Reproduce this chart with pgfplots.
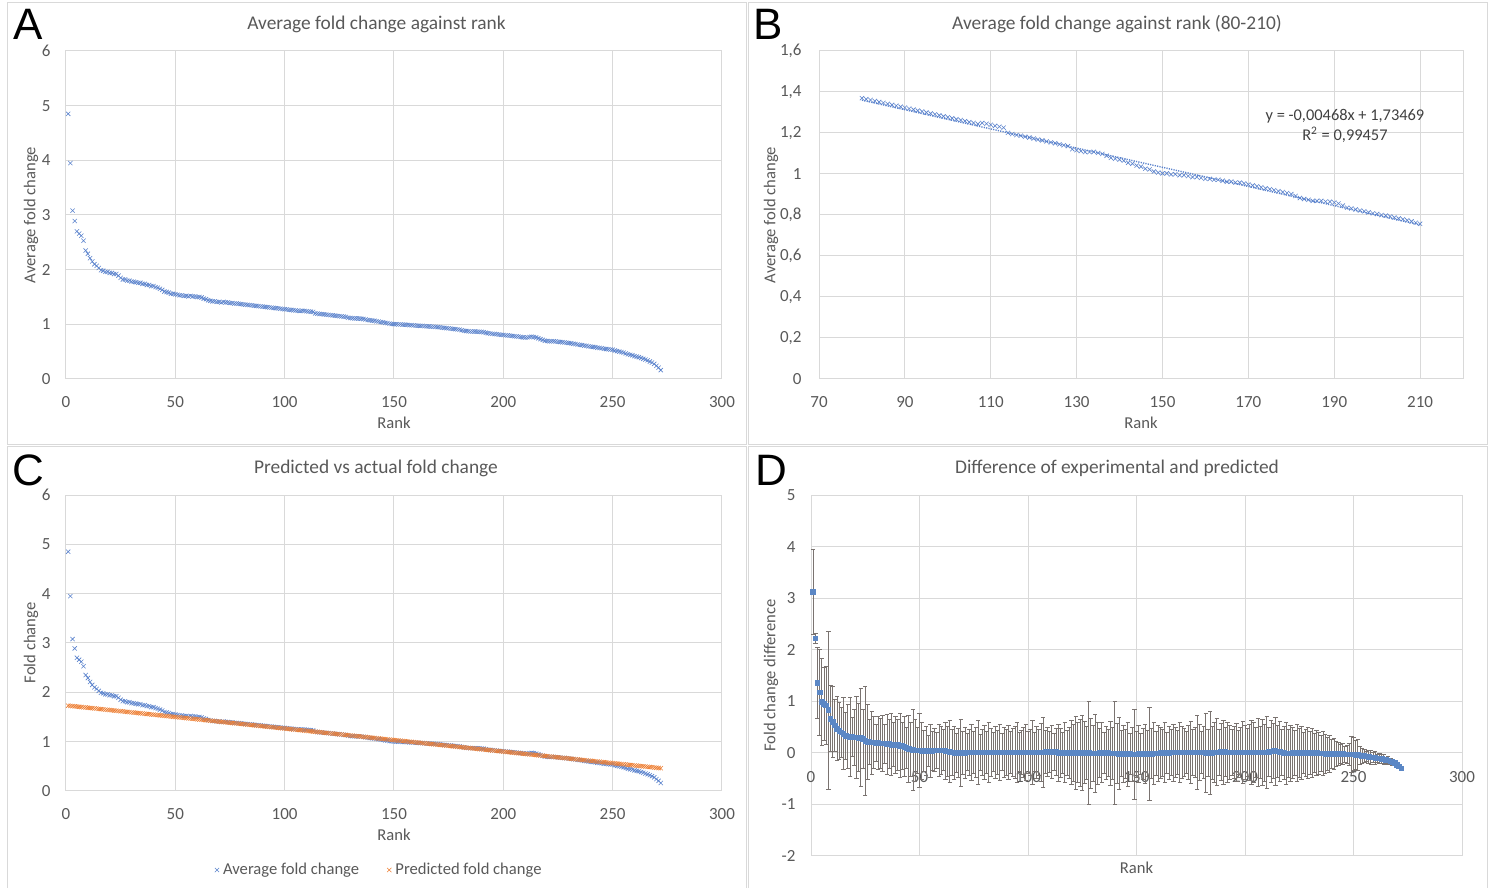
\documentclass[border=0pt]{standalone}
\usepackage{fontspec}
\setmainfont{Carlito}
\newfontfamily\letterfont{Liberation Sans}
\usepackage{pgfplots}
\pgfplotsset{compat=1.18}
\usepackage{pgfplotstable}

\definecolor{txt}{HTML}{595959}
\definecolor{gridc}{HTML}{D9D9D9}
\definecolor{xblue}{HTML}{5A82CC}
\definecolor{xorange}{HTML}{ED7D31}
\definecolor{dblue}{HTML}{5B87C5}
\definecolor{ebar}{HTML}{7A7370}

% rank, average fold change, predicted, difference, error
\pgfplotstableread[row sep=\\]{
r avg pred diff err\\
1 4.85 1.730 3.12 0.82\\
2 3.95 1.725 2.22 0.10\\
3 3.08 1.721 1.36 0.69\\
4 2.89 1.716 1.17 0.83\\
5 2.70 1.711 0.99 0.85\\
6 2.66 1.707 0.95 0.70\\
7 2.62 1.702 0.92 0.75\\
8 2.53 1.697 0.83 1.53\\
9 2.35 1.693 0.66 0.64\\
10 2.29 1.688 0.60 0.68\\
11 2.21 1.683 0.53 0.50\\
12 2.15 1.679 0.47 0.62\\
13 2.10 1.674 0.43 0.55\\
14 2.07 1.669 0.40 0.48\\
15 2.03 1.664 0.37 0.70\\
16 1.99 1.660 0.33 0.45\\
17 1.98 1.655 0.32 0.62\\
18 1.96 1.650 0.31 0.77\\
19 1.96 1.646 0.31 0.38\\
20 1.94 1.641 0.30 0.55\\
21 1.94 1.636 0.30 0.80\\
22 1.92 1.632 0.29 0.66\\
23 1.92 1.627 0.29 0.95\\
24 1.89 1.622 0.27 0.58\\
25 1.85 1.618 0.23 1.05\\
26 1.82 1.613 0.21 0.72\\
27 1.82 1.608 0.21 0.43\\
28 1.80 1.604 0.20 0.61\\
29 1.80 1.599 0.20 0.50\\
30 1.78 1.594 0.19 0.36\\
31 1.78 1.590 0.19 0.52\\
32 1.77 1.585 0.18 0.48\\
33 1.76 1.580 0.18 0.55\\
34 1.76 1.576 0.18 0.38\\
35 1.74 1.571 0.17 0.58\\
36 1.74 1.566 0.17 0.47\\
37 1.72 1.562 0.16 0.60\\
38 1.72 1.557 0.16 0.42\\
39 1.70 1.552 0.15 0.55\\
40 1.70 1.548 0.15 0.50\\
41 1.68 1.543 0.14 0.62\\
42 1.67 1.538 0.13 0.45\\
43 1.65 1.533 0.12 0.58\\
44 1.63 1.529 0.10 0.40\\
45 1.60 1.524 0.08 0.65\\
46 1.59 1.519 0.07 0.52\\
47 1.58 1.515 0.06 0.78\\
48 1.56 1.510 0.05 0.60\\
49 1.56 1.505 0.05 0.45\\
50 1.55 1.501 0.05 0.72\\
51 1.54 1.496 0.04 0.55\\
52 1.53 1.491 0.04 0.40\\
53 1.53 1.487 0.04 0.48\\
54 1.52 1.482 0.04 0.30\\
55 1.52 1.477 0.04 0.52\\
56 1.51 1.473 0.04 0.38\\
57 1.52 1.468 0.05 0.42\\
58 1.51 1.463 0.05 0.35\\
59 1.51 1.459 0.05 0.50\\
60 1.50 1.454 0.05 0.46\\
61 1.50 1.449 0.05 0.40\\
62 1.49 1.445 0.04 0.55\\
63 1.47 1.440 0.03 0.48\\
64 1.46 1.435 0.02 0.60\\
65 1.44 1.431 0.01 0.44\\
66 1.43 1.426 0.00 0.52\\
67 1.42 1.421 0.00 0.38\\
68 1.42 1.417 0.00 0.47\\
69 1.41 1.412 0.00 0.65\\
70 1.41 1.407 0.00 0.42\\
71 1.40 1.402 0.00 0.50\\
72 1.41 1.398 0.01 0.36\\
73 1.40 1.393 0.01 0.44\\
74 1.40 1.388 0.01 0.55\\
75 1.39 1.384 0.01 0.40\\
76 1.39 1.379 0.01 0.48\\
77 1.38 1.374 0.01 0.62\\
78 1.38 1.370 0.01 0.35\\
79 1.375 1.365 0.01 0.45\\
80 1.370 1.360 0.01 0.52\\
81 1.365 1.355 0.01 0.40\\
82 1.361 1.351 0.01 0.58\\
83 1.356 1.346 0.01 0.46\\
84 1.351 1.341 0.01 0.38\\
85 1.347 1.337 0.01 0.50\\
86 1.342 1.332 0.01 0.42\\
87 1.337 1.327 0.01 0.55\\
88 1.333 1.323 0.01 0.36\\
89 1.328 1.318 0.01 0.48\\
90 1.324 1.314 0.01 0.44\\
91 1.319 1.309 0.01 0.52\\
92 1.314 1.304 0.01 0.40\\
93 1.309 1.299 0.01 0.46\\
94 1.305 1.295 0.01 0.50\\
95 1.300 1.290 0.01 0.58\\
96 1.295 1.285 0.01 0.38\\
97 1.291 1.281 0.01 0.42\\
98 1.286 1.276 0.01 0.48\\
99 1.281 1.271 0.01 0.55\\
100 1.277 1.267 0.01 0.40\\
101 1.272 1.262 0.01 0.45\\
102 1.267 1.257 0.01 0.62\\
103 1.263 1.253 0.01 0.38\\
104 1.258 1.248 0.01 0.50\\
105 1.253 1.243 0.01 0.44\\
106 1.249 1.239 0.01 0.56\\
107 1.244 1.234 0.01 0.68\\
108 1.249 1.229 0.02 0.42\\
109 1.245 1.225 0.02 0.48\\
110 1.240 1.220 0.02 0.40\\
111 1.235 1.215 0.02 0.52\\
112 1.231 1.211 0.02 0.36\\
113 1.226 1.206 0.02 0.45\\
114 1.201 1.201 0.00 0.55\\
115 1.195 1.197 0.00 0.48\\
116 1.190 1.192 0.00 0.40\\
117 1.187 1.187 0.00 0.58\\
118 1.182 1.182 0.00 0.44\\
119 1.178 1.178 0.00 0.50\\
120 1.173 1.173 0.00 0.62\\
121 1.168 1.168 0.00 0.55\\
122 1.164 1.164 0.00 0.70\\
123 1.159 1.159 0.00 0.58\\
124 1.154 1.154 0.00 0.65\\
125 1.150 1.150 0.00 0.72\\
126 1.145 1.145 0.00 0.60\\
127 1.140 1.140 0.00 0.52\\
128 1.136 1.136 0.00 1.00\\
129 1.121 1.131 -0.01 0.68\\
130 1.116 1.126 -0.01 0.55\\
131 1.112 1.122 -0.01 0.75\\
132 1.107 1.117 -0.01 0.60\\
133 1.107 1.112 -0.005 0.48\\
134 1.108 1.108 0.00 0.58\\
135 1.103 1.103 0.00 0.40\\
136 1.098 1.098 0.00 0.52\\
137 1.089 1.094 -0.005 0.45\\
138 1.079 1.089 -0.01 0.62\\
139 1.074 1.084 -0.01 0.50\\
140 1.070 1.080 -0.01 1.00\\
141 1.065 1.075 -0.01 0.58\\
142 1.055 1.070 -0.015 0.70\\
143 1.050 1.065 -0.015 0.45\\
144 1.041 1.061 -0.02 0.55\\
145 1.036 1.056 -0.02 0.48\\
146 1.026 1.051 -0.025 0.62\\
147 1.022 1.047 -0.025 0.40\\
148 1.012 1.042 -0.03 0.52\\
149 1.007 1.037 -0.03 0.88\\
150 1.003 1.033 -0.03 0.45\\
151 1.003 1.028 -0.025 0.55\\
152 0.998 1.023 -0.025 0.40\\
153 0.999 1.019 -0.02 0.50\\
154 0.994 1.014 -0.02 0.58\\
155 0.994 1.009 -0.015 0.44\\
156 0.990 1.005 -0.015 0.90\\
157 0.985 1.000 -0.015 0.48\\
158 0.985 0.995 -0.01 0.60\\
159 0.981 0.991 -0.01 0.42\\
160 0.976 0.986 -0.01 0.55\\
161 0.976 0.981 -0.005 0.50\\
162 0.972 0.977 -0.005 0.46\\
163 0.972 0.972 0.00 0.58\\
164 0.967 0.967 0.00 0.40\\
165 0.962 0.962 0.00 0.52\\
166 0.963 0.958 0.005 0.45\\
167 0.958 0.953 0.005 0.55\\
168 0.958 0.948 0.01 0.48\\
169 0.954 0.944 0.01 0.42\\
170 0.949 0.939 0.01 0.58\\
171 0.944 0.934 0.01 0.50\\
172 0.940 0.930 0.01 0.46\\
173 0.935 0.925 0.01 0.40\\
174 0.930 0.920 0.01 0.52\\
175 0.926 0.916 0.01 0.60\\
176 0.921 0.911 0.01 0.44\\
177 0.916 0.906 0.01 0.48\\
178 0.912 0.902 0.01 0.72\\
179 0.907 0.897 0.01 0.55\\
180 0.902 0.892 0.01 0.40\\
181 0.893 0.888 0.005 0.50\\
182 0.883 0.883 0.00 0.76\\
183 0.878 0.878 0.00 0.45\\
184 0.874 0.874 0.00 0.80\\
185 0.869 0.869 0.00 0.52\\
186 0.869 0.864 0.005 0.58\\
187 0.869 0.859 0.01 0.65\\
188 0.865 0.855 0.01 0.44\\
189 0.865 0.850 0.015 0.55\\
190 0.861 0.846 0.015 0.62\\
191 0.856 0.841 0.015 0.48\\
192 0.846 0.836 0.01 0.58\\
193 0.836 0.831 0.005 0.52\\
194 0.832 0.827 0.005 0.45\\
195 0.827 0.822 0.005 0.50\\
196 0.822 0.817 0.005 0.56\\
197 0.818 0.813 0.005 0.42\\
198 0.813 0.808 0.005 0.48\\
199 0.808 0.803 0.005 0.60\\
200 0.805 0.799 0.006 0.52\\
201 0.800 0.794 0.006 0.46\\
202 0.797 0.789 0.008 0.55\\
203 0.793 0.785 0.008 0.62\\
204 0.788 0.780 0.008 0.58\\
205 0.783 0.775 0.008 0.48\\
206 0.779 0.771 0.008 0.66\\
207 0.774 0.766 0.008 0.50\\
208 0.769 0.761 0.008 0.64\\
209 0.762 0.757 0.005 0.55\\
210 0.757 0.752 0.005 0.70\\
211 0.762 0.747 0.015 0.48\\
212 0.768 0.743 0.025 0.60\\
213 0.773 0.738 0.035 0.54\\
214 0.768 0.733 0.035 0.66\\
215 0.759 0.729 0.03 0.50\\
216 0.744 0.724 0.02 0.58\\
217 0.729 0.719 0.01 0.45\\
218 0.715 0.715 0.00 0.52\\
219 0.700 0.710 -0.01 0.60\\
220 0.695 0.705 -0.01 0.46\\
221 0.690 0.700 -0.01 0.55\\
222 0.691 0.696 -0.005 0.50\\
223 0.691 0.691 0.00 0.44\\
224 0.686 0.686 0.00 0.56\\
225 0.682 0.682 0.00 0.48\\
226 0.677 0.677 0.00 0.52\\
227 0.672 0.672 0.00 0.40\\
228 0.668 0.668 0.00 0.46\\
229 0.663 0.663 0.00 0.50\\
230 0.658 0.658 0.00 0.42\\
231 0.654 0.654 0.00 0.48\\
232 0.644 0.649 -0.005 0.38\\
233 0.639 0.644 -0.005 0.44\\
234 0.630 0.640 -0.01 0.40\\
235 0.625 0.635 -0.01 0.35\\
236 0.620 0.630 -0.01 0.42\\
237 0.611 0.626 -0.015 0.38\\
238 0.606 0.621 -0.015 0.32\\
239 0.596 0.616 -0.02 0.36\\
240 0.592 0.612 -0.02 0.28\\
241 0.587 0.607 -0.02 0.30\\
242 0.582 0.602 -0.02 0.25\\
243 0.572 0.597 -0.025 0.22\\
244 0.568 0.593 -0.025 0.18\\
245 0.563 0.588 -0.025 0.20\\
246 0.553 0.583 -0.03 0.15\\
247 0.549 0.579 -0.03 0.18\\
248 0.544 0.574 -0.03 0.22\\
249 0.539 0.569 -0.03 0.35\\
250 0.535 0.565 -0.03 0.32\\
251 0.520 0.560 -0.04 0.28\\
252 0.510 0.555 -0.045 0.30\\
253 0.501 0.551 -0.05 0.18\\
254 0.491 0.546 -0.055 0.15\\
255 0.481 0.541 -0.06 0.12\\
256 0.467 0.537 -0.07 0.10\\
257 0.452 0.532 -0.08 0.12\\
258 0.442 0.527 -0.085 0.14\\
259 0.433 0.523 -0.09 0.10\\
260 0.418 0.518 -0.10 0.12\\
261 0.408 0.513 -0.105 0.08\\
262 0.399 0.509 -0.11 0.10\\
263 0.384 0.504 -0.12 0.08\\
264 0.369 0.499 -0.13 0.10\\
265 0.355 0.495 -0.14 0.06\\
266 0.340 0.490 -0.15 0.08\\
267 0.320 0.485 -0.165 0.05\\
268 0.301 0.481 -0.18 0.06\\
269 0.276 0.476 -0.20 0.04\\
270 0.241 0.471 -0.23 0.05\\
271 0.206 0.466 -0.26 0.03\\
272 0.162 0.462 -0.30 0.02\\
}\data

\pgfplotsset{
  panel/.style={
    scale only axis, anchor=south west, clip=false,
    grid=major, grid style={gridc, line width=0.5pt},
    axis line style={gridc, line width=0.5pt},
    major tick length=0pt,
    tick label style={font=\fontsize{8.5}{10}\selectfont, text=txt},
    label style={font=\fontsize{8.3}{10}\selectfont, text=txt},
    /pgf/number format/assume math mode=true,
    xticklabel style={yshift=-5pt},
    yticklabel style={xshift=-4.2pt},
    xlabel style={at={([yshift=-22pt]axis description cs:0.5,0)}, anchor=center},
    ylabel style={at={([xshift=-17.5pt]axis description cs:0,0.5)}, anchor=center, rotate=0},
  },
  xmk/.style={only marks, mark=x, mark size=1.5pt, line width=0.3pt},
}

\begin{document}
\begin{tikzpicture}
\path[use as bounding box] (0,0) rectangle (747.5pt,444pt);
% panel frames
\draw[gridc, line width=0.5pt] (3.5pt,221.5pt) rectangle (373pt,442.5pt);
\draw[gridc, line width=0.5pt] (374pt,221.5pt) rectangle (743.5pt,442.5pt);
\draw[gridc, line width=0.5pt] (3.5pt,-1pt) rectangle (373pt,220.5pt);
\draw[gridc, line width=0.5pt] (374pt,-1pt) rectangle (743.5pt,220.5pt);

% A
\begin{axis}[panel, at={(33pt,254.5pt)}, width=328pt, height=164pt,
  xmin=0, xmax=300, ymin=0, ymax=6, xtick={0,50,...,300}, ytick={0,1,...,6},
  xlabel={Rank}, ylabel={Average fold change}]
\addplot[xmk, xblue] table[x=r, y=avg] {\data};
\end{axis}

% B
\begin{axis}[panel, at={(409.5pt,254.5pt)}, width=322pt, height=164pt,
  xmin=70, xmax=220, ymin=0, ymax=1.6, xtick={70,90,...,210},
  ytick={0,0.2,0.4,0.6,0.8,1,1.2,1.4,1.6},
  yticklabel style={xshift=-1pt, /pgf/number format/use comma, /pgf/number format/fixed, /pgf/number format/precision=1},
  ylabel style={at={([xshift=-24pt]axis description cs:0,0.5)}},
  xlabel={Rank}, ylabel={Average fold change}]
\addplot[xmk, xblue, restrict x to domain=80:210] table[x=r, y=avg] {\data};
\addplot[xblue, line width=0.7pt, dash pattern=on 0.6pt off 0.6pt] coordinates {(80,1.3603) (210,0.7519)};
\node[font=\fontsize{8.2}{9.8}\selectfont, text=black!75, align=center] at (axis cs:192.5,1.234)
  {y = -0,00468x + 1,73469\\R\textsuperscript{2} = 0,99457};
\end{axis}

% C
\begin{axis}[panel, at={(33pt,48.5pt)}, width=328pt, height=148pt,
  xmin=0, xmax=300, ymin=0, ymax=6, xtick={0,50,...,300}, ytick={0,1,...,6},
  xlabel={Rank}, ylabel={Fold change},
  legend style={at={(0.479,-0.267)}, anchor=center, draw=none, fill=none,
    font=\fontsize{8.3}{10}\selectfont, text=txt, legend columns=2,
    /tikz/every even column/.append style={column sep=12pt}},
  legend cell align=left]
\addplot[xmk, xblue] table[x=r, y=avg] {\data};
\addlegendentry{Average fold change}
\addplot[xmk, xorange] table[x=r, y=pred] {\data};
\addlegendentry{Predicted fold change}
\end{axis}

% D
\begin{axis}[panel, at={(405.5pt,16pt)}, width=325.5pt, height=180.5pt,
  xmin=0, xmax=300, ymin=-2, ymax=5, xtick={0,50,...,300}, ytick={-2,-1,...,5},
  xticklabel style={yshift=50.8pt},
  xlabel style={at={([yshift=-6pt]axis description cs:0.5,0)}},
  ylabel style={at={([xshift=-20pt]axis description cs:0,0.5)}},
  xlabel={Rank}, ylabel={Fold change difference}]
\addplot[only marks, mark=square*, mark size=1.15pt, dblue,
  error bars/.cd, y dir=both, y explicit,
  error bar style={ebar, line width=0.45pt},
  error mark options={ebar, rotate=90, mark size=1.1pt, line width=0.45pt}]
  table[x=r, y=diff, y error=err] {\data};
\end{axis}

% titles and panel letters
\node[font=\fontsize{9.7}{11}\selectfont, text=txt] at (188.25pt,432pt) {Average fold change against rank};
\node[font=\fontsize{9.7}{11}\selectfont, text=txt] at (558.5pt,432pt) {Average fold change against rank (80-210)};
\node[font=\fontsize{9.7}{11}\selectfont, text=txt] at (188pt,210pt) {Predicted vs actual fold change};
\node[font=\fontsize{9.7}{11}\selectfont, text=txt] at (558.5pt,210pt) {Difference of experimental and predicted};
\node[font=\letterfont\fontsize{22}{22}\selectfont] at (14pt,432pt) {A};
\node[font=\letterfont\fontsize{22}{22}\selectfont] at (384pt,432pt) {B};
\node[font=\letterfont\fontsize{22}{22}\selectfont] at (14pt,209pt) {C};
\node[font=\letterfont\fontsize{22}{22}\selectfont] at (385.5pt,209pt) {D};
\end{tikzpicture}
\end{document}
